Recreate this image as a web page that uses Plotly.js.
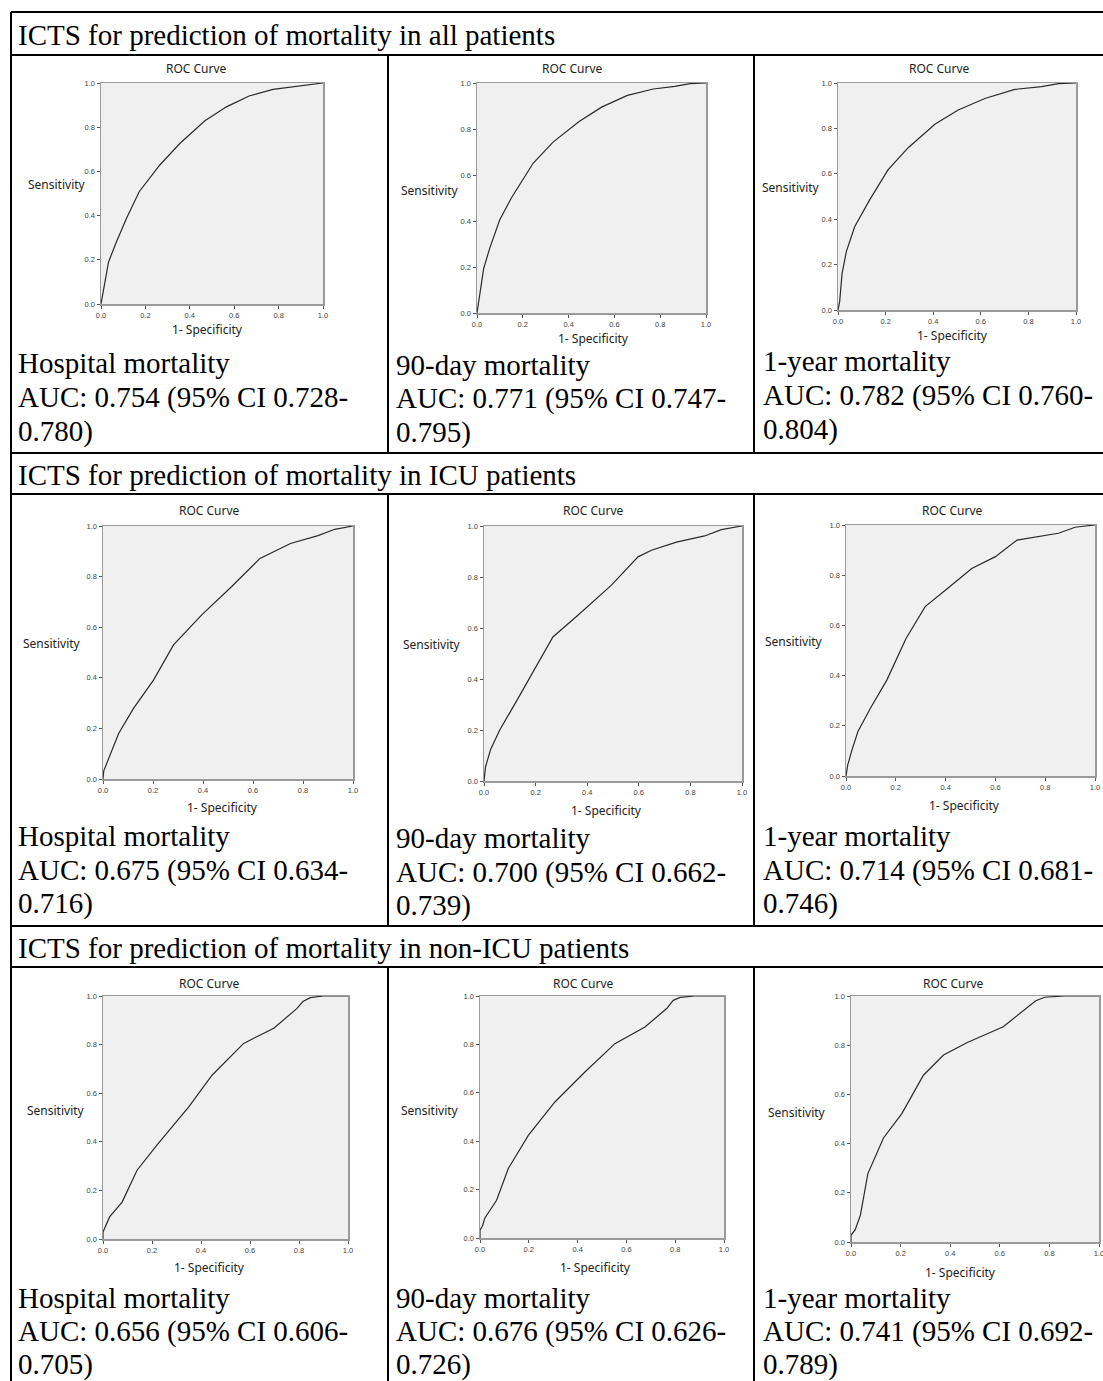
<!DOCTYPE html>
<html>
<head>
<meta charset="utf-8">
<script src="https://cdn.plot.ly/plotly-3.0.1.min.js"></script>
<style>html,body{margin:0;padding:0;background:#fff;}#chart{width:1103px;height:1381px;}</style>
</head>
<body>
<div id="chart"></div>
<script>
// ---------------- DATA ----------------
const rowTitles = [
  "ICTS for prediction of mortality in all patients",
  "ICTS for prediction of mortality in ICU patients",
  "ICTS for prediction of mortality in non-ICU patients"
];
const outcomes = ["Hospital mortality", "90-day mortality", "1-year mortality"];
const aucValues = [[0.754, 0.771, 0.782], [0.675, 0.700, 0.714], [0.656, 0.676, 0.741]];
const ciLower   = [[0.728, 0.747, 0.760], [0.634, 0.662, 0.681], [0.606, 0.626, 0.692]];
const ciUpper   = [[0.780, 0.795, 0.804], [0.716, 0.739, 0.746], [0.705, 0.726, 0.789]];
const tickValues = [0, 0.2, 0.4, 0.6, 0.8, 1.0];

// ROC curves: 1 - specificity (x) and sensitivity (y)
const fprAllHosp = [0, 0.034, 0.067, 0.115, 0.172, 0.265, 0.355, 0.468, 0.565, 0.667, 0.775, 0.88, 1];
const tprAllHosp = [0, 0.19, 0.275, 0.388, 0.508, 0.629, 0.726, 0.829, 0.892, 0.941, 0.971, 0.985, 1];
const fprAll90 = [0, 0.029, 0.055, 0.099, 0.15, 0.245, 0.332, 0.446, 0.544, 0.657, 0.77, 0.864, 0.93, 1];
const tprAll90 = [0, 0.193, 0.28, 0.404, 0.5, 0.651, 0.743, 0.833, 0.895, 0.946, 0.974, 0.985, 0.997, 1];
const fprAll1y = [0, 0.007, 0.017, 0.035, 0.07, 0.133, 0.21, 0.295, 0.407, 0.505, 0.617, 0.743, 0.856, 0.926, 1];
const tprAll1y = [0, 0.037, 0.16, 0.257, 0.367, 0.485, 0.617, 0.715, 0.818, 0.881, 0.932, 0.972, 0.984, 0.997, 1];

const fprIcuHosp = [0, 0.003, 0.0625, 0.122, 0.202, 0.282, 0.395, 0.515, 0.628, 0.75, 0.86, 0.927, 1];
const tprIcuHosp = [0, 0.032, 0.18, 0.279, 0.391, 0.53, 0.649, 0.761, 0.872, 0.931, 0.962, 0.987, 1];
const fprIcu90 = [0, 0.006, 0.026, 0.061, 0.132, 0.196, 0.267, 0.364, 0.494, 0.597, 0.649, 0.746, 0.855, 0.92, 1];
const tprIcu90 = [0, 0.056, 0.125, 0.2, 0.324, 0.441, 0.565, 0.65, 0.768, 0.879, 0.905, 0.937, 0.961, 0.986, 1];
const fprIcu1y = [0, 0.007, 0.024, 0.048, 0.098, 0.164, 0.241, 0.318, 0.405, 0.505, 0.6, 0.687, 0.853, 0.92, 1];
const tprIcu1y = [0, 0.044, 0.104, 0.177, 0.27, 0.382, 0.548, 0.675, 0.745, 0.827, 0.874, 0.94, 0.967, 0.991, 1];

const fprNonHosp = [0, 0, 0.027, 0.078, 0.139, 0.22, 0.35, 0.445, 0.574, 0.697, 0.792, 0.816, 0.846, 0.9, 1];
const tprNonHosp = [0, 0.029, 0.091, 0.152, 0.283, 0.386, 0.544, 0.674, 0.805, 0.867, 0.949, 0.977, 0.993, 1, 1];
const fprNon90 = [0, 0, 0.011, 0.02, 0.068, 0.116, 0.198, 0.307, 0.43, 0.553, 0.676, 0.765, 0.792, 0.82, 0.88, 1];
const tprNon90 = [0, 0.032, 0.052, 0.083, 0.156, 0.287, 0.424, 0.562, 0.686, 0.803, 0.872, 0.948, 0.982, 0.994, 1, 1];
const fprNon1y = [0, 0, 0.017, 0.038, 0.068, 0.131, 0.205, 0.292, 0.373, 0.469, 0.614, 0.701, 0.745, 0.781, 0.861, 1];
const tprNon1y = [0, 0.027, 0.05, 0.109, 0.278, 0.423, 0.522, 0.678, 0.76, 0.811, 0.875, 0.943, 0.981, 0.995, 1, 1];

const curves = [
  [fprAllHosp, tprAllHosp], [fprAll90, tprAll90], [fprAll1y, tprAll1y],
  [fprIcuHosp, tprIcuHosp], [fprIcu90, tprIcu90], [fprIcu1y, tprIcu1y],
  [fprNonHosp, tprNonHosp], [fprNon90, tprNon90], [fprNon1y, tprNon1y]
];

// ---------------- LAYOUT (pixel geometry) ----------------
const W = 1103, H = 1381;
const px = v => v / W;
const py = v => 1 - v / H;

// plot rectangles: [left, right, top, bottom]
const boxes = [
  [101, 323, 83, 304], [477, 706, 83, 313], [838, 1076, 83, 310],
  [103, 353, 526, 779], [484, 742, 526, 781], [846, 1095, 525, 776],
  [103, 348, 996, 1239], [480, 724, 996, 1238], [851, 1099, 996, 1242]
];
// [titleX, titleY, sensX, sensY, specX, specY]
const labelPos = [
  [196, 68, 57, 185, 207, 329], [572, 69, 430, 190, 593, 338], [939, 68, 791, 188, 952, 335],
  [209, 510, 52, 643, 222, 807], [593, 510, 432, 644, 607, 810], [952, 510, 794, 642, 964, 805],
  [209, 983, 56, 1110, 209, 1267], [583, 983, 430, 1110, 595, 1267], [953, 983, 797, 1112, 960, 1272]
];
// text block line centres per cell
const textRows = [[363, 397, 431], [836, 870, 903], [1298, 1331, 1364]];
const textRowsShift = [[0, 2, -2], [0, 2, 0], [0, 0, 0]];
const colLeft = [16, 394, 761];
const headerY = [35, 475, 948];

const sansFont = "'Noto Sans', 'Open Sans', sans-serif";
const serifFont = "'Liberation Serif', 'Times New Roman', serif";

const traces = [];
const layout = {
  width: W, height: H,
  margin: {l: 0, r: 0, t: 0, b: 0},
  paper_bgcolor: '#ffffff',
  showlegend: false,
  annotations: [],
  shapes: []
};

curves.forEach((c, i) => {
  const n = i === 0 ? '' : String(i + 1);
  traces.push({
    x: c[0], y: c[1], xaxis: 'x' + n, yaxis: 'y' + n,
    type: 'scatter', mode: 'lines',
    line: {color: '#2a2a2a', width: 1.2},
    hoverinfo: 'skip', showlegend: false
  });
  const b = boxes[i];
  const axisBase = {
    range: [0, 1], tickvals: tickValues, tickformat: '.1f',
    showgrid: false, zeroline: false,
    showline: true, mirror: true, linecolor: '#9a9a9a', linewidth: 1.5,
    ticks: 'outside', ticklen: 3, tickwidth: 1, tickcolor: '#555',
    ticklabeloverflow: 'allow',
    tickfont: {family: "'Liberation Sans', Arial, sans-serif", size: 7.5, color: '#444'},
    fixedrange: true
  };
  layout['xaxis' + n] = Object.assign({}, axisBase, {
    domain: [px(b[0]), px(b[1])], anchor: 'y' + n
  });
  layout['yaxis' + n] = Object.assign({}, axisBase, {
    domain: [py(b[3]), py(b[2])], anchor: 'x' + n
  });
  // plot background rectangle
  layout.shapes.push({
    type: 'rect', xref: 'x' + n + ' domain', yref: 'y' + n + ' domain',
    x0: 0, x1: 1, y0: 0, y1: 1, fillcolor: '#f0f0f0', line: {width: 0}, layer: 'below'
  });
  const lp = labelPos[i];
  const fnt = {family: sansFont, size: 12, color: '#222'};
  layout.annotations.push(
    {text: 'ROC Curve', x: px(lp[0]), y: py(lp[1]), xref: 'paper', yref: 'paper', showarrow: false, xanchor: 'center', yanchor: 'middle', font: fnt},
    {text: 'Sensitivity', x: px(lp[2]), y: py(lp[3]), xref: 'paper', yref: 'paper', showarrow: false, xanchor: 'center', yanchor: 'middle', font: fnt},
    {text: '1- Specificity', x: px(lp[4]), y: py(lp[5]), xref: 'paper', yref: 'paper', showarrow: false, xanchor: 'center', yanchor: 'middle', font: fnt}
  );
});

// table text
const serif = {family: serifFont, size: 29, color: '#000'};
rowTitles.forEach((t, r) => {
  layout.annotations.push({text: t, x: px(16), y: py(headerY[r]), xref: 'paper', yref: 'paper', showarrow: false, xanchor: 'left', yanchor: 'middle', font: serif});
  outcomes.forEach((o, c) => {
    const lines = [
      o,
      'AUC: ' + aucValues[r][c].toFixed(3) + ' (95% CI ' + ciLower[r][c].toFixed(3) + '-',
      ciUpper[r][c].toFixed(3) + ')'
    ];
    lines.forEach((ln, k) => {
      layout.annotations.push({text: ln, x: px(colLeft[c]), y: py(textRows[r][k] + textRowsShift[r][c]), xref: 'paper', yref: 'paper', showarrow: false, xanchor: 'left', yanchor: 'middle', font: serif});
    });
  });
});

// table borders
const lineStyle = {color: '#000', width: 2};
const hLines = [12, 55, 453, 494, 926, 967];
hLines.forEach(y => layout.shapes.push({type: 'line', xref: 'paper', yref: 'paper', x0: px(11), x1: 1, y0: py(y), y1: py(y), line: lineStyle}));
layout.shapes.push({type: 'line', xref: 'paper', yref: 'paper', x0: px(11), x1: px(11), y0: py(12), y1: 0, line: lineStyle});
const segs = [[55, 453], [494, 926], [967, 1381]];
[388, 754].forEach(x => segs.forEach(s => layout.shapes.push({type: 'line', xref: 'paper', yref: 'paper', x0: px(x), x1: px(x), y0: py(s[0]), y1: py(s[1]), line: lineStyle})));

Plotly.newPlot('chart', traces, layout, {displayModeBar: false, staticPlot: true});
</script>
</body>
</html>
